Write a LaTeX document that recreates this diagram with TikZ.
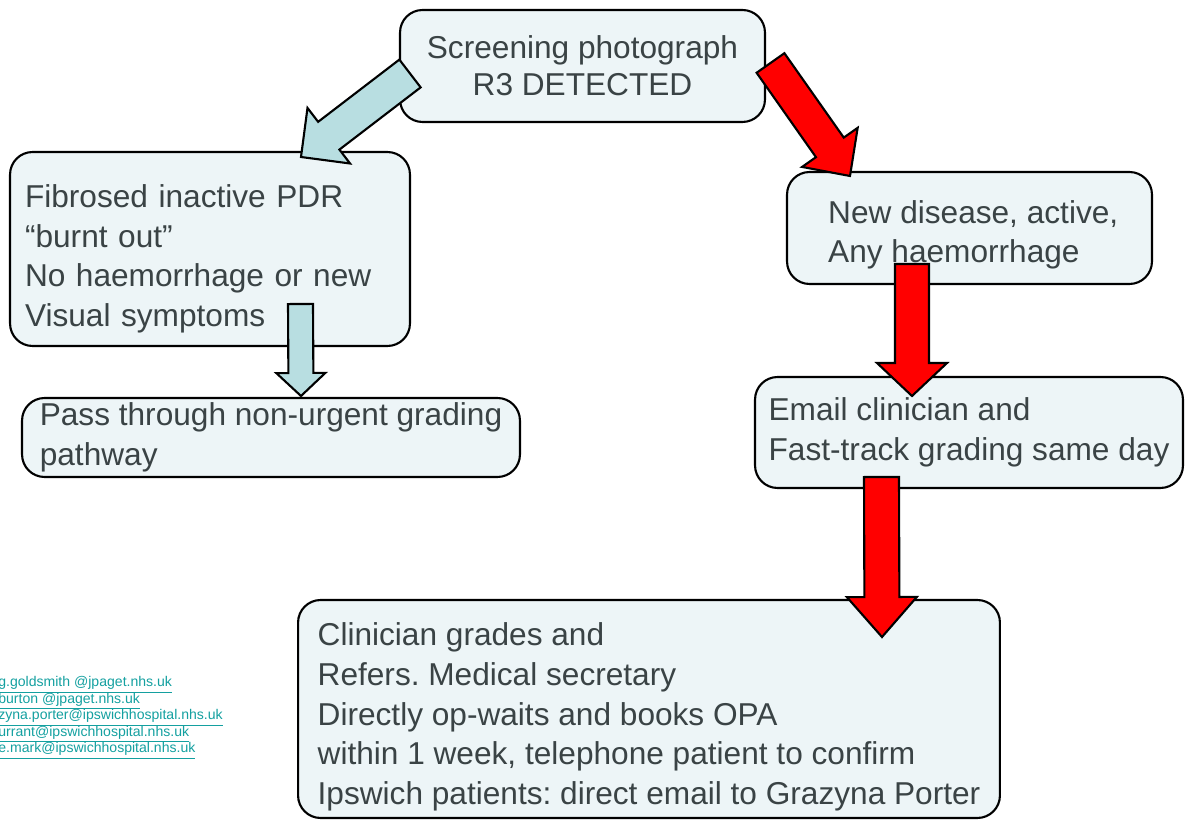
\documentclass[tikz,border=0pt]{standalone}
\usepackage{fontspec}
\setmainfont{Liberation Sans}
\usepackage{tikz}
\usetikzlibrary{calc}

\definecolor{boxfill}{HTML}{EDF5F7}
\definecolor{boxtext}{HTML}{3A4345}
\definecolor{paleblue}{HTML}{B8DEE1}
\definecolor{linkteal}{HTML}{14A0A0}

\frenchspacing

\tikzset{
  flowbox/.style={draw=black, line width=1.2pt, fill=boxfill, rounded corners=0.45cm,
    text=boxtext, font=\fontsize{18}{22.5}\selectfont, inner sep=0pt},
  paleblock/.style={draw=black, line width=1.2pt, fill=paleblue, line join=miter},
  redblock/.style={draw=black, line width=1.2pt, fill=red, line join=miter},
  maillink/.style={text=linkteal, font=\fontsize{8}{9}\selectfont, anchor=base west, inner sep=0pt}
}

% lowers a text block inside its box
\newcommand{\toppad}[1]{\rule{0pt}{#1}}

% block arrow: style, tail, tip, half shaft, half head, head length
\newcommand{\blockarrow}[6]{%
  \coordinate (neck) at ($(#3)!#6!(#2)$);
  \draw[#1] ($(#2)!#4!90:(#3)$) -- ($(neck)!#4!90:(#3)$) -- ($(neck)!#5!90:(#3)$) -- (#3)
    -- ($(neck)!#5!-90:(#3)$) -- ($(neck)!#4!-90:(#3)$) -- ($(#2)!#4!-90:(#3)$) -- cycle;
}

\begin{document}
\begin{tikzpicture}[x=0.02cm, y=-0.02cm]
	\useasboundingbox (0,0) rectangle (1200,820);

	% boxes
	\node[flowbox, minimum width=7.3cm, minimum height=2.24cm, align=center, font=\fontsize{18}{21}\selectfont] (screen) at (582.5,66)
		{Screening photograph\\R3 DETECTED};
	\node[flowbox, minimum width=8cm, minimum height=3.88cm, text width=7.4cm, align=left] (fibrosed) at (210,249)
		{\toppad{24pt}Fibrosed inactive PDR\\``burnt out''\\No haemorrhage or new\\Visual symptoms};
	\node[flowbox, minimum width=7.3cm, minimum height=2.24cm, align=left] (newdis) at (969.5,228)
		{\toppad{21pt}\hspace*{0.15cm}New disease, active,\\\hspace*{0.15cm}Any haemorrhage};
	\node[flowbox, minimum width=9.96cm, minimum height=1.58cm, align=left] (pass) at (271,437.5)
		{Pass through non-urgent grading\\pathway};
	\node[flowbox, minimum width=8.56cm, minimum height=2.22cm, align=left] (email) at (969,432.5)
		{Email clinician and\\Fast-track grading same day};
	\node[flowbox, minimum width=14.04cm, minimum height=4.36cm, align=left] (grades) at (649,709)
		{\toppad{22pt}Clinician grades and\\Refers. Medical secretary\\Directly op-waits and books OPA\\within 1 week, telephone patient to confirm\\Ipswich patients: direct email to Grazyna Porter};

	% email addresses, cut at the left edge
	\foreach \addr [count=\i] in {g.goldsmith @jpaget.nhs.uk, burton @jpaget.nhs.uk, zyna.porter@ipswichhospital.nhs.uk, urrant@ipswichhospital.nhs.uk, e.mark@ipswichhospital.nhs.uk}
		\node[maillink] (mail\i) at (-2,670+16.5*\i) {\underline{\addr}};

	% arrow ends
	\coordinate (screenout) at (410,73.5);
	\coordinate (fibrosedin) at (301,157);
	\coordinate (screenred) at (770.5,63);
	\coordinate (newdisin) at (850,176);
	\coordinate (fibrosedout) at (300.5,304);
	\coordinate (passin) at (301,396);
	\coordinate (newdisout) at (912,264);
	\coordinate (emailin) at (912,396);
	\coordinate (emailout) at (881.5,477);
	\coordinate (gradesin) at (882,637);

	% block arrows
	\blockarrow{paleblock}{screenout}{fibrosedin}{0.35cm}{0.70cm}{0.70cm}
	\blockarrow{redblock}{screenred}{newdisin}{0.34cm}{0.68cm}{0.70cm}
	\blockarrow{paleblock}{fibrosedout}{passin}{0.25cm}{0.49cm}{0.46cm}
	\blockarrow{redblock}{newdisout}{emailin}{0.34cm}{0.70cm}{0.66cm}
	\blockarrow{redblock}{emailout}{gradesin}{0.35cm}{0.70cm}{0.80cm}
\end{tikzpicture}
\end{document}
